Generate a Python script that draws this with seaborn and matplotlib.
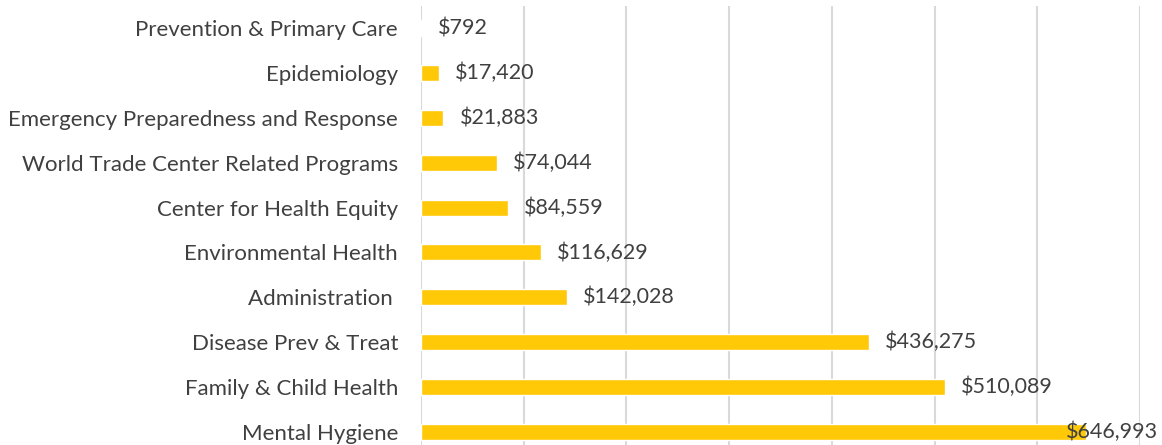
import pandas as pd
import seaborn as sns
import matplotlib.pyplot as plt

programs = [
    "Prevention & Primary Care",
    "Epidemiology",
    "Emergency Preparedness and Response",
    "World Trade Center Related Programs",
    "Center for Health Equity",
    "Environmental Health",
    "Administration ",
    "Disease Prev & Treat",
    "Family & Child Health",
    "Mental Hygiene",
]
budget = [792, 17420, 21883, 74044, 84559, 116629, 142028, 436275, 510089, 646993]

df = pd.DataFrame({'program': programs, 'budget': budget})

sns.set_style('white')
plt.rcParams['font.family'] = ['Lato', 'DejaVu Sans']

W, H = 1162, 445
fig = plt.figure(figsize=(W / 100, H / 100), dpi=100)
# plot area is cropped at the bottom in the reference
ax = fig.add_axes([421 / W, 1 - 454 / H, (1140 - 421) / W, (454 - 6) / H])

sns.barplot(data=df, x='budget', y='program', color='#FFC907', width=0.36,
            saturation=1, ax=ax, zorder=3)

ax.set_xlim(0, 700000)
ax.set_xticks(range(0, 700001, 100000))
ax.set_xticklabels([])
ax.tick_params(axis='x', length=0)
ax.tick_params(axis='y', length=0, pad=16.5, labelsize=16, labelcolor='#404040')
ax.xaxis.grid(True, color='#d9d9d9', linewidth=1.5, zorder=0)
ax.yaxis.grid(False)
for s in ax.spines.values():
    s.set_visible(False)
ax.set_xlabel('')
ax.set_ylabel('')

fig.canvas.draw()
renderer = fig.canvas.get_renderer()
for i, v in enumerate(budget):
    x0, y0 = ax.transData.transform((v, i))
    t = ax.text(x0 + 16, y0, f'${v:,}', transform=None, ha='left', va='center',
                fontsize=15.5, color='#404040', zorder=4)
    bb = t.get_window_extent(renderer)
    if bb.x1 > W - 4:
        t.set_x(x0 + 16 - (bb.x1 - (W - 4)))

fig.savefig('out.png', dpi=100)
